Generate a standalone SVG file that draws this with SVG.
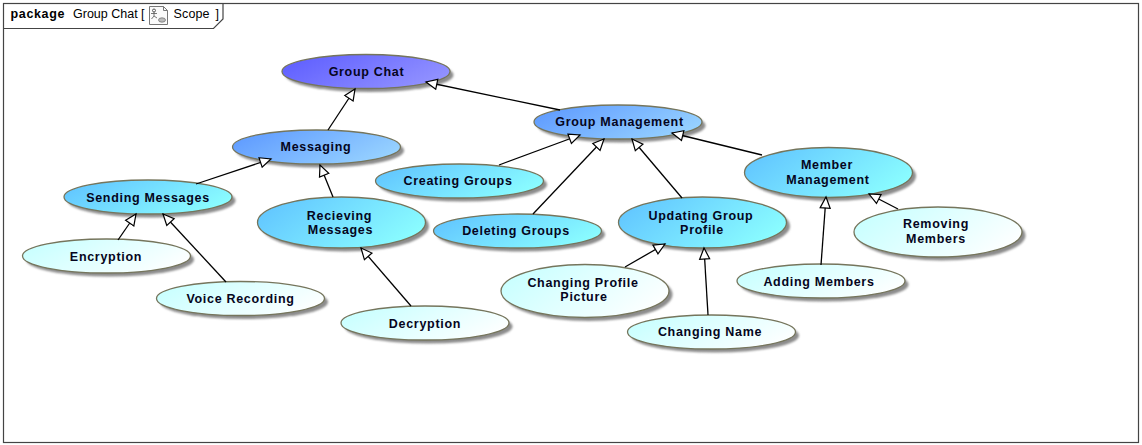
<svg xmlns="http://www.w3.org/2000/svg" width="1142" height="445" viewBox="0 0 1142 445">
<style>
text{font-family:"Liberation Sans",Arial,sans-serif;fill:#000}
.n text{font-size:12.5px;font-weight:bold;text-anchor:middle;letter-spacing:.7px;fill:#050520}
.n ellipse.b{stroke:#75755c;stroke-width:1.3}
.n ellipse.s{fill:#8c8c8c;filter:url(#blur);stroke:none}
.c line{stroke:#000;stroke-width:1.3;marker-end:url(#tri)}
.g1{fill:url(#g1)}.g2{fill:url(#g2)}.g3{fill:url(#g3)}.g4{fill:url(#g4)}
.t{font-size:12.5px}
</style>
<defs>
<filter id="blur" x="-10%" y="-20%" width="120%" height="140%"><feGaussianBlur stdDeviation="1"/></filter>
<linearGradient id="g1" x1="0" y1="0.3" x2="1" y2="0.7"><stop offset="0" stop-color="#6060ff"/><stop offset="1" stop-color="#9494ff"/></linearGradient>
<linearGradient id="g2" x1="0" y1="0.3" x2="1" y2="0.7"><stop offset="0" stop-color="#609cff"/><stop offset="1" stop-color="#99d4ff"/></linearGradient>
<linearGradient id="g3" x1="0" y1="0.3" x2="1" y2="0.7"><stop offset="0" stop-color="#62c6ff"/><stop offset="1" stop-color="#8cffff"/></linearGradient>
<linearGradient id="g4" x1="0" y1="0.3" x2="1" y2="0.7"><stop offset="0" stop-color="#c8ffff"/><stop offset="1" stop-color="#ffffff"/></linearGradient>
<marker id="tri" markerUnits="userSpaceOnUse" markerWidth="16" markerHeight="14" refX="12" refY="6.500" orient="auto"><path d="M1 1.500L12 6.500L1 11.500Z" fill="#fff" stroke="#000" stroke-width="1.2"/></marker>
</defs>
<g id="frame">
<rect x="3.500" y="3.500" width="1135" height="439" fill="#fff" stroke="#444" stroke-width="1.2"/>
<path d="M3.500 28.500H213.500L223 19V3.500" fill="none" stroke="#444" stroke-width="1.2"/>
<text x="10.500" y="18" class="t" font-weight="bold" style="letter-spacing:.65px">package</text>
<text x="73" y="18" class="t">Group Chat [</text>
<path d="M149.500 6.500H163.500L167.500 10.500V24.500H149.500Z" fill="#fafafa" stroke="#777"/>
<path d="M163.500 6.500V10.500H167.500" fill="none" stroke="#777"/>
<circle cx="154" cy="10.500" r="1.500" fill="none" stroke="#555"/>
<path d="M154 12V16M151 13.500H157M154 16L151.500 19M154 16L157 18" fill="none" stroke="#555" stroke-width=".8"/>
<ellipse cx="162" cy="20" rx="3.500" ry="2.200" fill="#bbb" stroke="#666" stroke-width=".7"/>
<text x="173.500" y="18" class="t" style="letter-spacing:.15px">Scope</text>
<text x="215.500" y="18" class="t">]</text>
</g>
<g class="n" id="group-chat"><ellipse class="s" cx="369.500" cy="75" rx="84" ry="17"/><ellipse class="b g1" cx="366" cy="71.500" rx="84" ry="17"/><text x="366.500" y="76">Group Chat</text></g>
<g class="n" id="messaging"><ellipse class="s" cx="320" cy="150.500" rx="84" ry="17"/><ellipse class="b g2" cx="316.500" cy="147" rx="84" ry="17"/><text x="316" y="151">Messaging</text></g>
<g class="n" id="group-management"><ellipse class="s" cx="621.500" cy="125.500" rx="84" ry="17"/><ellipse class="b g2" cx="618" cy="122" rx="84" ry="17"/><text x="619.500" y="126">Group Management</text></g>
<g class="n" id="sending-messages"><ellipse class="s" cx="151.500" cy="200.500" rx="84" ry="17"/><ellipse class="b g3" cx="148" cy="197" rx="84" ry="17"/><text x="148" y="202">Sending Messages</text></g>
<g class="n" id="recieving-messages"><ellipse class="s" cx="345" cy="226" rx="84" ry="25.500"/><ellipse class="b g3" cx="341.500" cy="222.500" rx="84" ry="25.500"/><text x="339.500" y="220">Recieving</text><text x="340.500" y="234">Messages</text></g>
<g class="n" id="creating-groups"><ellipse class="s" cx="463" cy="184.500" rx="84" ry="17"/><ellipse class="b g3" cx="459.500" cy="181" rx="84" ry="17"/><text x="458" y="185">Creating Groups</text></g>
<g class="n" id="deleting-groups"><ellipse class="s" cx="521" cy="234.500" rx="84" ry="17"/><ellipse class="b g3" cx="517.500" cy="231" rx="84" ry="17"/><text x="516" y="235">Deleting Groups</text></g>
<g class="n" id="updating-group-profile"><ellipse class="s" cx="706" cy="226" rx="84" ry="25.500"/><ellipse class="b g3" cx="702.500" cy="222.500" rx="84" ry="25.500"/><text x="701" y="220">Updating Group</text><text x="702" y="234">Profile</text></g>
<g class="n" id="member-management"><ellipse class="s" cx="832" cy="176" rx="84" ry="25"/><ellipse class="b g3" cx="828.500" cy="172.500" rx="84" ry="25"/><text x="827" y="169">Member</text><text x="828" y="184">Management</text></g>
<g class="n" id="encryption"><ellipse class="s" cx="110" cy="259.500" rx="84" ry="17"/><ellipse class="b g4" cx="106.500" cy="256" rx="84" ry="17"/><text x="106" y="261">Encryption</text></g>
<g class="n" id="voice-recording"><ellipse class="s" cx="244" cy="302" rx="84" ry="17"/><ellipse class="b g4" cx="240.500" cy="298.500" rx="84" ry="17"/><text x="240.500" y="303">Voice Recording</text></g>
<g class="n" id="decryption"><ellipse class="s" cx="428.500" cy="326.500" rx="84" ry="17"/><ellipse class="b g4" cx="425" cy="323" rx="84" ry="17"/><text x="425" y="328">Decryption</text></g>
<g class="n" id="changing-profile-picture"><ellipse class="s" cx="588.500" cy="294.500" rx="84" ry="26.500"/><ellipse class="b g4" cx="585" cy="291" rx="84" ry="26.500"/><text x="583" y="287">Changing Profile</text><text x="584" y="301">Picture</text></g>
<g class="n" id="changing-name"><ellipse class="s" cx="715" cy="335.500" rx="84" ry="17"/><ellipse class="b g4" cx="711.500" cy="332" rx="84" ry="17"/><text x="710" y="336">Changing Name</text></g>
<g class="n" id="adding-members"><ellipse class="s" cx="824.500" cy="284.500" rx="84" ry="17"/><ellipse class="b g4" cx="821" cy="281" rx="84" ry="17"/><text x="819" y="286">Adding Members</text></g>
<g class="n" id="removing-members"><ellipse class="s" cx="941.500" cy="235.500" rx="84" ry="25"/><ellipse class="b g4" cx="938" cy="232" rx="84" ry="25"/><text x="936" y="228">Removing</text><text x="936" y="243">Members</text></g>
<g id="connectors" class="c">
<line x1="328" y1="130" x2="355" y2="89"/>
<line x1="560" y1="110" x2="426" y2="82"/>
<line x1="196" y1="184" x2="271" y2="159"/>
<line x1="333" y1="197" x2="320" y2="165"/>
<line x1="118" y1="240" x2="136" y2="214"/>
<line x1="226" y1="282" x2="163" y2="214"/>
<line x1="411" y1="306" x2="361" y2="248"/>
<line x1="499" y1="165" x2="580" y2="135"/>
<line x1="533" y1="214" x2="604" y2="139"/>
<line x1="682" y1="198" x2="632" y2="139"/>
<line x1="762" y1="155" x2="672" y2="133"/>
<line x1="625" y1="267" x2="665" y2="244"/>
<line x1="708" y1="315" x2="704" y2="248"/>
<line x1="821" y1="265" x2="826" y2="197"/>
<line x1="898" y1="209" x2="869" y2="194"/>
</g>
</svg>
